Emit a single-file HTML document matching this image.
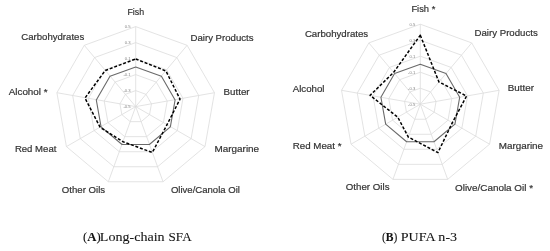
<!DOCTYPE html>
<html><head><meta charset="utf-8"><style>
html,body{margin:0;padding:0;background:#fff;width:550px;height:251px;overflow:hidden}
svg{display:block;will-change:transform}
.lab text{font-family:"Liberation Sans",sans-serif;font-size:9.8px;fill:#333;stroke:#333;stroke-width:0.2px}
.cap{font-family:"Liberation Serif",serif;font-size:12.6px;fill:#111;stroke:#111;stroke-width:0.08px}
.tk text{font-family:"Liberation Sans",sans-serif}
</style></head><body>
<svg width="550" height="251" viewBox="0 0 550 251">
<rect width="550" height="251" fill="#fff"/>
<g class="tk">
<polygon points="135.70,90.60 145.98,94.34 151.46,103.82 149.56,114.60 141.17,121.64 130.23,121.64 121.84,114.60 119.94,103.82 125.42,94.34" fill="none" stroke="#dcdcdc" stroke-width="0.8"/>
<polygon points="135.70,74.60 156.27,82.09 167.21,101.04 163.41,122.60 146.64,136.67 124.76,136.67 107.99,122.60 104.19,101.04 115.13,82.09" fill="none" stroke="#dcdcdc" stroke-width="0.8"/>
<polygon points="135.70,58.60 166.55,69.83 182.97,98.26 177.27,130.60 152.12,151.71 119.28,151.71 94.13,130.60 88.43,98.26 104.85,69.83" fill="none" stroke="#dcdcdc" stroke-width="0.8"/>
<polygon points="135.70,42.60 176.84,57.57 198.73,95.49 191.13,138.60 157.59,166.74 113.81,166.74 80.27,138.60 72.67,95.49 94.56,57.57" fill="none" stroke="#dcdcdc" stroke-width="0.8"/>
<polygon points="135.70,26.60 187.12,45.32 214.48,92.71 204.98,146.60 163.06,181.78 108.34,181.78 66.42,146.60 56.92,92.71 84.28,45.32" fill="none" stroke="#dcdcdc" stroke-width="0.8"/>
<line x1="135.70" y1="106.60" x2="135.70" y2="26.60" stroke="#dcdcdc" stroke-width="0.8"/>
<line x1="135.70" y1="106.60" x2="187.12" y2="45.32" stroke="#dcdcdc" stroke-width="0.8"/>
<line x1="135.70" y1="106.60" x2="214.48" y2="92.71" stroke="#dcdcdc" stroke-width="0.8"/>
<line x1="135.70" y1="106.60" x2="204.98" y2="146.60" stroke="#dcdcdc" stroke-width="0.8"/>
<line x1="135.70" y1="106.60" x2="163.06" y2="181.78" stroke="#dcdcdc" stroke-width="0.8"/>
<line x1="135.70" y1="106.60" x2="108.34" y2="181.78" stroke="#dcdcdc" stroke-width="0.8"/>
<line x1="135.70" y1="106.60" x2="66.42" y2="146.60" stroke="#dcdcdc" stroke-width="0.8"/>
<line x1="135.70" y1="106.60" x2="56.92" y2="92.71" stroke="#dcdcdc" stroke-width="0.8"/>
<line x1="135.70" y1="106.60" x2="84.28" y2="45.32" stroke="#dcdcdc" stroke-width="0.8"/>
<text x="130.70" y="108.10" font-size="4.2" fill="#858585" text-anchor="end">-0.5</text>
<text x="130.70" y="92.10" font-size="4.2" fill="#858585" text-anchor="end">-0.3</text>
<text x="130.70" y="76.10" font-size="4.2" fill="#858585" text-anchor="end">-0.1</text>
<text x="130.70" y="60.10" font-size="4.2" fill="#858585" text-anchor="end">0.1</text>
<text x="130.70" y="44.10" font-size="4.2" fill="#858585" text-anchor="end">0.3</text>
<text x="130.70" y="28.10" font-size="4.2" fill="#858585" text-anchor="end">0.5</text>
<polygon points="420.30,88.20 430.58,91.94 436.06,101.42 434.16,112.20 425.77,119.24 414.83,119.24 406.44,112.20 404.54,101.42 410.02,91.94" fill="none" stroke="#dcdcdc" stroke-width="0.8"/>
<polygon points="420.30,72.20 440.87,79.69 451.81,98.64 448.01,120.20 431.24,134.27 409.36,134.27 392.59,120.20 388.79,98.64 399.73,79.69" fill="none" stroke="#dcdcdc" stroke-width="0.8"/>
<polygon points="420.30,56.20 451.15,67.43 467.57,95.86 461.87,128.20 436.72,149.31 403.88,149.31 378.73,128.20 373.03,95.86 389.45,67.43" fill="none" stroke="#dcdcdc" stroke-width="0.8"/>
<polygon points="420.30,40.20 461.44,55.17 483.33,93.09 475.73,136.20 442.19,164.34 398.41,164.34 364.87,136.20 357.27,93.09 379.16,55.17" fill="none" stroke="#dcdcdc" stroke-width="0.8"/>
<polygon points="420.30,24.20 471.72,42.92 499.08,90.31 489.58,144.20 447.66,179.38 392.94,179.38 351.02,144.20 341.52,90.31 368.88,42.92" fill="none" stroke="#dcdcdc" stroke-width="0.8"/>
<line x1="420.30" y1="104.20" x2="420.30" y2="24.20" stroke="#dcdcdc" stroke-width="0.8"/>
<line x1="420.30" y1="104.20" x2="471.72" y2="42.92" stroke="#dcdcdc" stroke-width="0.8"/>
<line x1="420.30" y1="104.20" x2="499.08" y2="90.31" stroke="#dcdcdc" stroke-width="0.8"/>
<line x1="420.30" y1="104.20" x2="489.58" y2="144.20" stroke="#dcdcdc" stroke-width="0.8"/>
<line x1="420.30" y1="104.20" x2="447.66" y2="179.38" stroke="#dcdcdc" stroke-width="0.8"/>
<line x1="420.30" y1="104.20" x2="392.94" y2="179.38" stroke="#dcdcdc" stroke-width="0.8"/>
<line x1="420.30" y1="104.20" x2="351.02" y2="144.20" stroke="#dcdcdc" stroke-width="0.8"/>
<line x1="420.30" y1="104.20" x2="341.52" y2="90.31" stroke="#dcdcdc" stroke-width="0.8"/>
<line x1="420.30" y1="104.20" x2="368.88" y2="42.92" stroke="#dcdcdc" stroke-width="0.8"/>
<text x="415.30" y="105.70" font-size="4.2" fill="#858585" text-anchor="end">-0.5</text>
<text x="415.30" y="89.70" font-size="4.2" fill="#858585" text-anchor="end">-0.3</text>
<text x="415.30" y="73.70" font-size="4.2" fill="#858585" text-anchor="end">-0.1</text>
<text x="415.30" y="57.70" font-size="4.2" fill="#858585" text-anchor="end">0.1</text>
<text x="415.30" y="41.70" font-size="4.2" fill="#858585" text-anchor="end">0.3</text>
<text x="415.30" y="25.70" font-size="4.2" fill="#858585" text-anchor="end">0.5</text>
</g>
<polygon points="135.70,66.95 161.41,76.31 175.09,100.00 170.34,126.95 149.38,144.54 122.02,144.54 101.06,126.95 96.31,100.00 109.99,76.31" fill="none" stroke="#6a6a6a" stroke-width="1.1" stroke-linejoin="round"/>
<polygon points="135.70,58.95 165.91,70.95 180.02,99.14 166.88,124.95 152.29,152.53 123.05,141.72 100.19,127.45 84.98,98.01 105.17,70.56" fill="none" stroke="#000" stroke-width="1.5" stroke-dasharray="3 1.8" stroke-linejoin="round"/>
<polygon points="420.30,64.20 446.01,73.56 459.69,97.25 454.94,124.20 433.98,141.79 406.62,141.79 385.66,124.20 380.91,97.25 394.59,73.56" fill="none" stroke="#6a6a6a" stroke-width="1.1" stroke-linejoin="round"/>
<polygon points="420.30,35.20 438.94,81.98 466.59,96.04 452.34,122.70 437.91,152.59 408.33,137.09 397.78,117.20 370.07,95.34 393.62,72.41" fill="none" stroke="#000" stroke-width="1.5" stroke-dasharray="3 1.8" stroke-linejoin="round"/>
<g class="lab">
<text x="127.40" y="15.40" textLength="16.70" lengthAdjust="spacingAndGlyphs">Fish</text>
<text x="190.50" y="40.50" textLength="63.10" lengthAdjust="spacingAndGlyphs">Dairy Products</text>
<text x="21.30" y="40.00" textLength="62.90" lengthAdjust="spacingAndGlyphs">Carbohydrates</text>
<text x="8.70" y="94.90" textLength="38.90" lengthAdjust="spacingAndGlyphs">Alcohol *</text>
<text x="223.60" y="95.00" textLength="26.00" lengthAdjust="spacingAndGlyphs">Butter</text>
<text x="14.90" y="152.10" textLength="41.50" lengthAdjust="spacingAndGlyphs">Red Meat</text>
<text x="214.50" y="152.10" textLength="44.60" lengthAdjust="spacingAndGlyphs">Margarine</text>
<text x="61.80" y="193.20" textLength="43.30" lengthAdjust="spacingAndGlyphs">Other Oils</text>
<text x="170.90" y="193.20" textLength="69.10" lengthAdjust="spacingAndGlyphs">Olive/Canola Oil</text>
<text x="411.40" y="12.40" textLength="23.90" lengthAdjust="spacingAndGlyphs">Fish *</text>
<text x="304.90" y="37.10" textLength="63.30" lengthAdjust="spacingAndGlyphs">Carbohydrates</text>
<text x="474.50" y="36.20" textLength="63.30" lengthAdjust="spacingAndGlyphs">Dairy Products</text>
<text x="292.70" y="91.90" textLength="31.80" lengthAdjust="spacingAndGlyphs">Alcohol</text>
<text x="507.80" y="91.10" textLength="26.20" lengthAdjust="spacingAndGlyphs">Butter</text>
<text x="292.70" y="149.00" textLength="48.80" lengthAdjust="spacingAndGlyphs">Red Meat *</text>
<text x="498.70" y="148.60" textLength="44.40" lengthAdjust="spacingAndGlyphs">Margarine</text>
<text x="345.80" y="190.20" textLength="43.70" lengthAdjust="spacingAndGlyphs">Other Oils</text>
<text x="455.00" y="190.50" textLength="78.00" lengthAdjust="spacingAndGlyphs">Olive/Canola Oil *</text>
</g>
<text class="cap" x="83.1" y="241.0" textLength="17.6" lengthAdjust="spacingAndGlyphs">(<tspan font-weight="bold">A</tspan>)</text>
<text class="cap" x="99.8" y="241.0" textLength="64.8" lengthAdjust="spacingAndGlyphs">Long-chain</text>
<text class="cap" x="168.6" y="241.0" textLength="23.0" lengthAdjust="spacingAndGlyphs">SFA</text>
<text class="cap" x="381.9" y="240.7" textLength="15.4" lengthAdjust="spacingAndGlyphs">(<tspan font-weight="bold">B</tspan>)</text>
<text class="cap" x="400.8" y="240.7" textLength="56.3" lengthAdjust="spacingAndGlyphs">PUFA n-3</text>
</svg>
</body></html>
